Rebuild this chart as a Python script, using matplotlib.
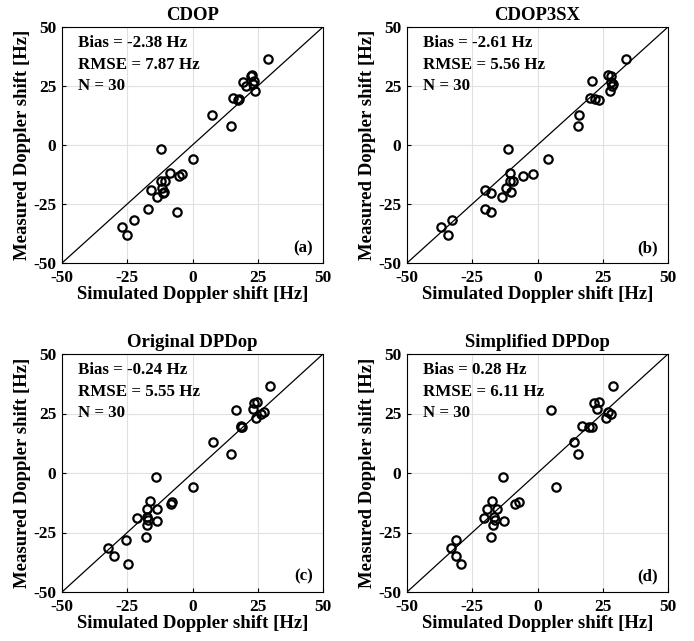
import numpy as np
import matplotlib
matplotlib.use("Agg")
import matplotlib.pyplot as plt

plt.rcParams['font.family'] = ['Liberation Serif', 'DejaVu Serif']
plt.rcParams['font.weight'] = 'bold'
plt.rcParams['axes.unicode_minus'] = False

# measured Doppler shift (same 30 samples in every panel)
measured = [36.4, 29.8, 29.4, 27.0, 26.5, 25.8, 25.0, 23.0, 19.9, 19.5,
            19.2, 12.9, 8.0, -1.5, -5.8, -11.7, -12.1, -13.1, -15.2, -15.3,
            -18.4, -19.1, -19.8, -20.2, -21.9, -27.1, -28.2, -31.7, -34.8, -38.2]

# simulated Doppler shift for each model
sim_cdop = [29.0, 22.9, 22.6, 23.6, 19.4, 23.3, 20.4, 24.1, 15.4, 17.9,
            17.5, 7.3, 14.7, -11.9, 0.1, -8.6, -4.1, -5.0, -11.9, -10.5,
            -11.8, -15.9, -10.9, -11.2, -13.7, -16.9, -5.8, -22.6, -26.9, -25.2]
sim_cdop3sx = [33.8, 27.1, 28.0, 21.0, 28.3, 29.0, 28.7, 27.7, 20.1, 22.0,
               23.6, 15.9, 15.6, -11.4, 3.9, -10.5, -1.7, -5.4, -10.5, -9.2,
               -12.0, -20.3, -10.1, -17.8, -13.7, -20.3, -17.9, -32.8, -37.0, -34.1]
sim_orig = [29.6, 24.8, 23.5, 23.0, 16.5, 27.5, 26.4, 24.5, 18.5, 18.8,
            18.6, 7.7, 14.6, -14.1, 0.3, -16.1, -8.0, -8.2, -17.3, -13.7,
            -17.3, -21.3, -17.0, -13.7, -17.4, -17.9, -25.5, -32.4, -30.0, -24.9]
sim_simpl = [29.0, 23.6, 21.7, 22.9, 5.0, 27.1, 28.3, 26.1, 17.1, 20.7,
             19.7, 13.8, 15.6, -13.2, 7.1, -17.6, -7.1, -8.6, -19.3, -15.4,
             -16.5, -20.6, -16.2, -12.8, -16.9, -18.0, -31.3, -33.1, -31.3, -29.4]

titles = ['CDOP', 'CDOP3SX', 'Original DPDop', 'Simplified DPDop']
biases = ['-2.38', '-2.61', '-0.24', '0.28']
rmses = ['7.87', '5.56', '5.55', '6.11']
letters = ['(a)', '(b)', '(c)', '(d)']
sims = [sim_cdop, sim_cdop3sx, sim_orig, sim_simpl]
ticks = [-50, -25, 0, 25, 50]

W, H = 694, 641
fig = plt.figure(figsize=(W / 100, H / 100), dpi=100)

# axes boxes in pixels: left, top, right, bottom
boxes = [(62, 27, 323, 263), (407, 27, 668, 263),
         (62, 354, 323, 592), (407, 354, 668, 592)]

for i, (l, t, r, b) in enumerate(boxes):
    ax = fig.add_axes([l / W, (H - b) / H, (r - l) / W, (b - t) / H])
    ax.plot([-50, 50], [-50, 50], color='black', lw=0.9)
    ax.plot(sims[i], measured, 'o', mfc='none', mec='black', ms=6, mew=1.6)
    ax.set_xlim(-50, 50)
    ax.set_ylim(-50, 50)
    ax.set_xticks(ticks)
    ax.set_yticks(ticks)
    ax.grid(True, color='#e0e0e0', lw=0.8)
    ax.set_axisbelow(True)
    ax.tick_params(labelsize=12.5, length=3, direction='in', width=0.8)
    ax.tick_params(axis='x', pad=5)
    ax.tick_params(axis='y', pad=4)
    for s in ax.spines.values():
        s.set_linewidth(0.8)
    ax.set_title(titles[i], fontsize=13.5, fontweight='bold', pad=5)
    ax.set_xlabel('Simulated Doppler shift [Hz]', fontsize=13.5, fontweight='bold', labelpad=0)
    ax.set_ylabel('Measured Doppler shift [Hz]', fontsize=13.5, fontweight='bold', labelpad=2)
    ax.text(0.06, 0.965, f'Bias = {biases[i]} Hz\nRMSE = {rmses[i]} Hz\nN = 30',
            transform=ax.transAxes, va='top', ha='left', fontsize=12.2,
            fontweight='bold', linespacing=1.45)
    ax.text(0.96, 0.03, letters[i], transform=ax.transAxes, va='bottom',
            ha='right', fontsize=12.2, fontweight='bold')

fig.savefig('out.png', dpi=100)
